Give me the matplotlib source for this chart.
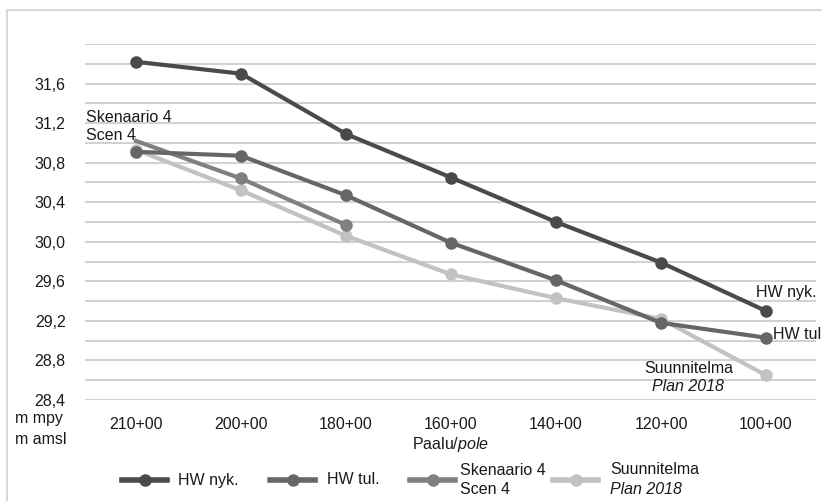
import matplotlib
matplotlib.use('Agg')
import matplotlib.pyplot as plt
import numpy as np
from matplotlib.lines import Line2D

plt.rcParams['font.family'] = 'Liberation Sans'
plt.rcParams['mathtext.fontset'] = 'custom'
plt.rcParams['mathtext.rm'] = 'Liberation Sans'
plt.rcParams['mathtext.it'] = 'Liberation Sans:italic'

# data
poles = ['210+00', '200+00', '180+00', '160+00', '140+00', '120+00', '100+00']
hw_nyk = [31.82, 31.70, 31.09, 30.65, 30.20, 29.79, 29.30]
hw_tul = [30.91, 30.87, 30.47, 29.99, 29.61, 29.18, 29.03]
skenaario = [31.02, 30.64, 30.17]
suunnitelma = [30.93, 30.52, 30.06, 29.67, 29.43, 29.22, 28.65]
# (regular line, italic line) for each series name
series_names = [('HW nyk.', ''), ('HW tul.', ''), ('Skenaario 4\nScen 4', ''),
                ('Suunnitelma', 'Plan 2018')]

c_nyk = '#4a4a4a'
c_tul = '#666666'
c_sken = '#808080'
c_suun = '#c2c2c2'
txt = '#1a1a1a'
fs = 11.5

x = np.arange(len(poles))

fig = plt.figure(figsize=(8.22, 5.01), dpi=100)
ax = fig.add_axes([85/822, 1-400/501, (816-85)/822, (400-44)/501])

ax.set_ylim(28.4, 32.0)
ax.set_xlim(-0.486, 6.476)
ax.set_yticks(np.arange(28.4, 32.01, 0.2), minor=True)
ax.set_yticks(np.arange(28.4, 31.61, 0.4))
ax.set_yticklabels([f'{v:.1f}'.replace('.', ',') for v in np.arange(28.4, 31.61, 0.4)])
ax.grid(axis='y', which='both', color='#d2d2d2', lw=1.5)
ax.set_axisbelow(True)
for s in ax.spines.values():
    s.set_visible(False)
ax.tick_params(axis='both', which='both', length=0, labelsize=fs, colors=txt)
ax.tick_params(axis='y', pad=14)
ax.tick_params(axis='x', pad=12)
ax.set_xticks(x)
ax.set_xticklabels(poles)

ms = 8
ax.plot(x, suunnitelma, color=c_suun, lw=3, marker='o', ms=ms)
ax.plot(x[:len(skenaario)], skenaario, color=c_sken, lw=3, marker='o', ms=ms, markevery=[1, 2])
ax.plot(x, hw_tul, color=c_tul, lw=3, marker='o', ms=ms)
ax.plot(x, hw_nyk, color=c_nyk, lw=3, marker='o', ms=ms)

# labels on the chart
ax.text(-0.48, 31.0, 'Skenaario 4\nScen 4', fontsize=fs, ha='left', va='bottom',
        linespacing=1.25, color=txt)
ax.text(5.9, 29.49, 'HW nyk.', fontsize=fs, ha='left', va='center', color=txt)
ax.text(6.07, 29.06, 'HW tul', fontsize=fs, ha='left', va='center', color=txt)
ax.text(5.26, 28.72, 'Suunnitelma', fontsize=fs, ha='center', va='center', color=txt)
ax.text(5.26, 28.54, 'Plan 2018', fontsize=fs, ha='center', va='center', style='italic',
        color=txt)

fig.text(451/822, 1-444/501, 'Paalu/$\\mathit{pole}$', fontsize=fs, ha='center', va='center',
         color=txt)
fig.text(15/822, 1-429/501, 'm mpy\nm amsl', fontsize=fs, ha='left', va='center',
         linespacing=1.45, color=txt)

# legend, entries evenly spaced as in the original
leg_colors = [c_nyk, c_tul, c_sken, c_suun]
leg_x0 = [122, 270, 410, 553]
leg_tx = [178, 327, 460, 610]
leg_y = 1 - 480/501
for x0, tx, c, (name, it_name) in zip(leg_x0, leg_tx, leg_colors, series_names):
    fig.add_artist(Line2D([x0/822, (x0+45)/822], [leg_y, leg_y], transform=fig.transFigure,
                          color=c, lw=4))
    fig.add_artist(Line2D([(x0+22.5)/822], [leg_y], transform=fig.transFigure,
                          color=c, marker='o', ms=8))
    if it_name:
        fig.text(tx/822, leg_y + 10/501, name, fontsize=fs, ha='left', va='center', color=txt)
        fig.text(tx/822, leg_y - 10/501, it_name, fontsize=fs, ha='left', va='center',
                 style='italic', color=txt)
    else:
        fig.text(tx/822, leg_y, name, fontsize=fs, ha='left', va='center', linespacing=1.3,
                 color=txt)

# light frame around the chart
fig.add_artist(Line2D([7/822, 7/822], [0, 1-10/501], transform=fig.transFigure, color='#d8d8d8', lw=1.5))
fig.add_artist(Line2D([7/822, 1], [1-10/501, 1-10/501], transform=fig.transFigure, color='#d8d8d8', lw=1.5))

fig.savefig('out.png', dpi=100)
